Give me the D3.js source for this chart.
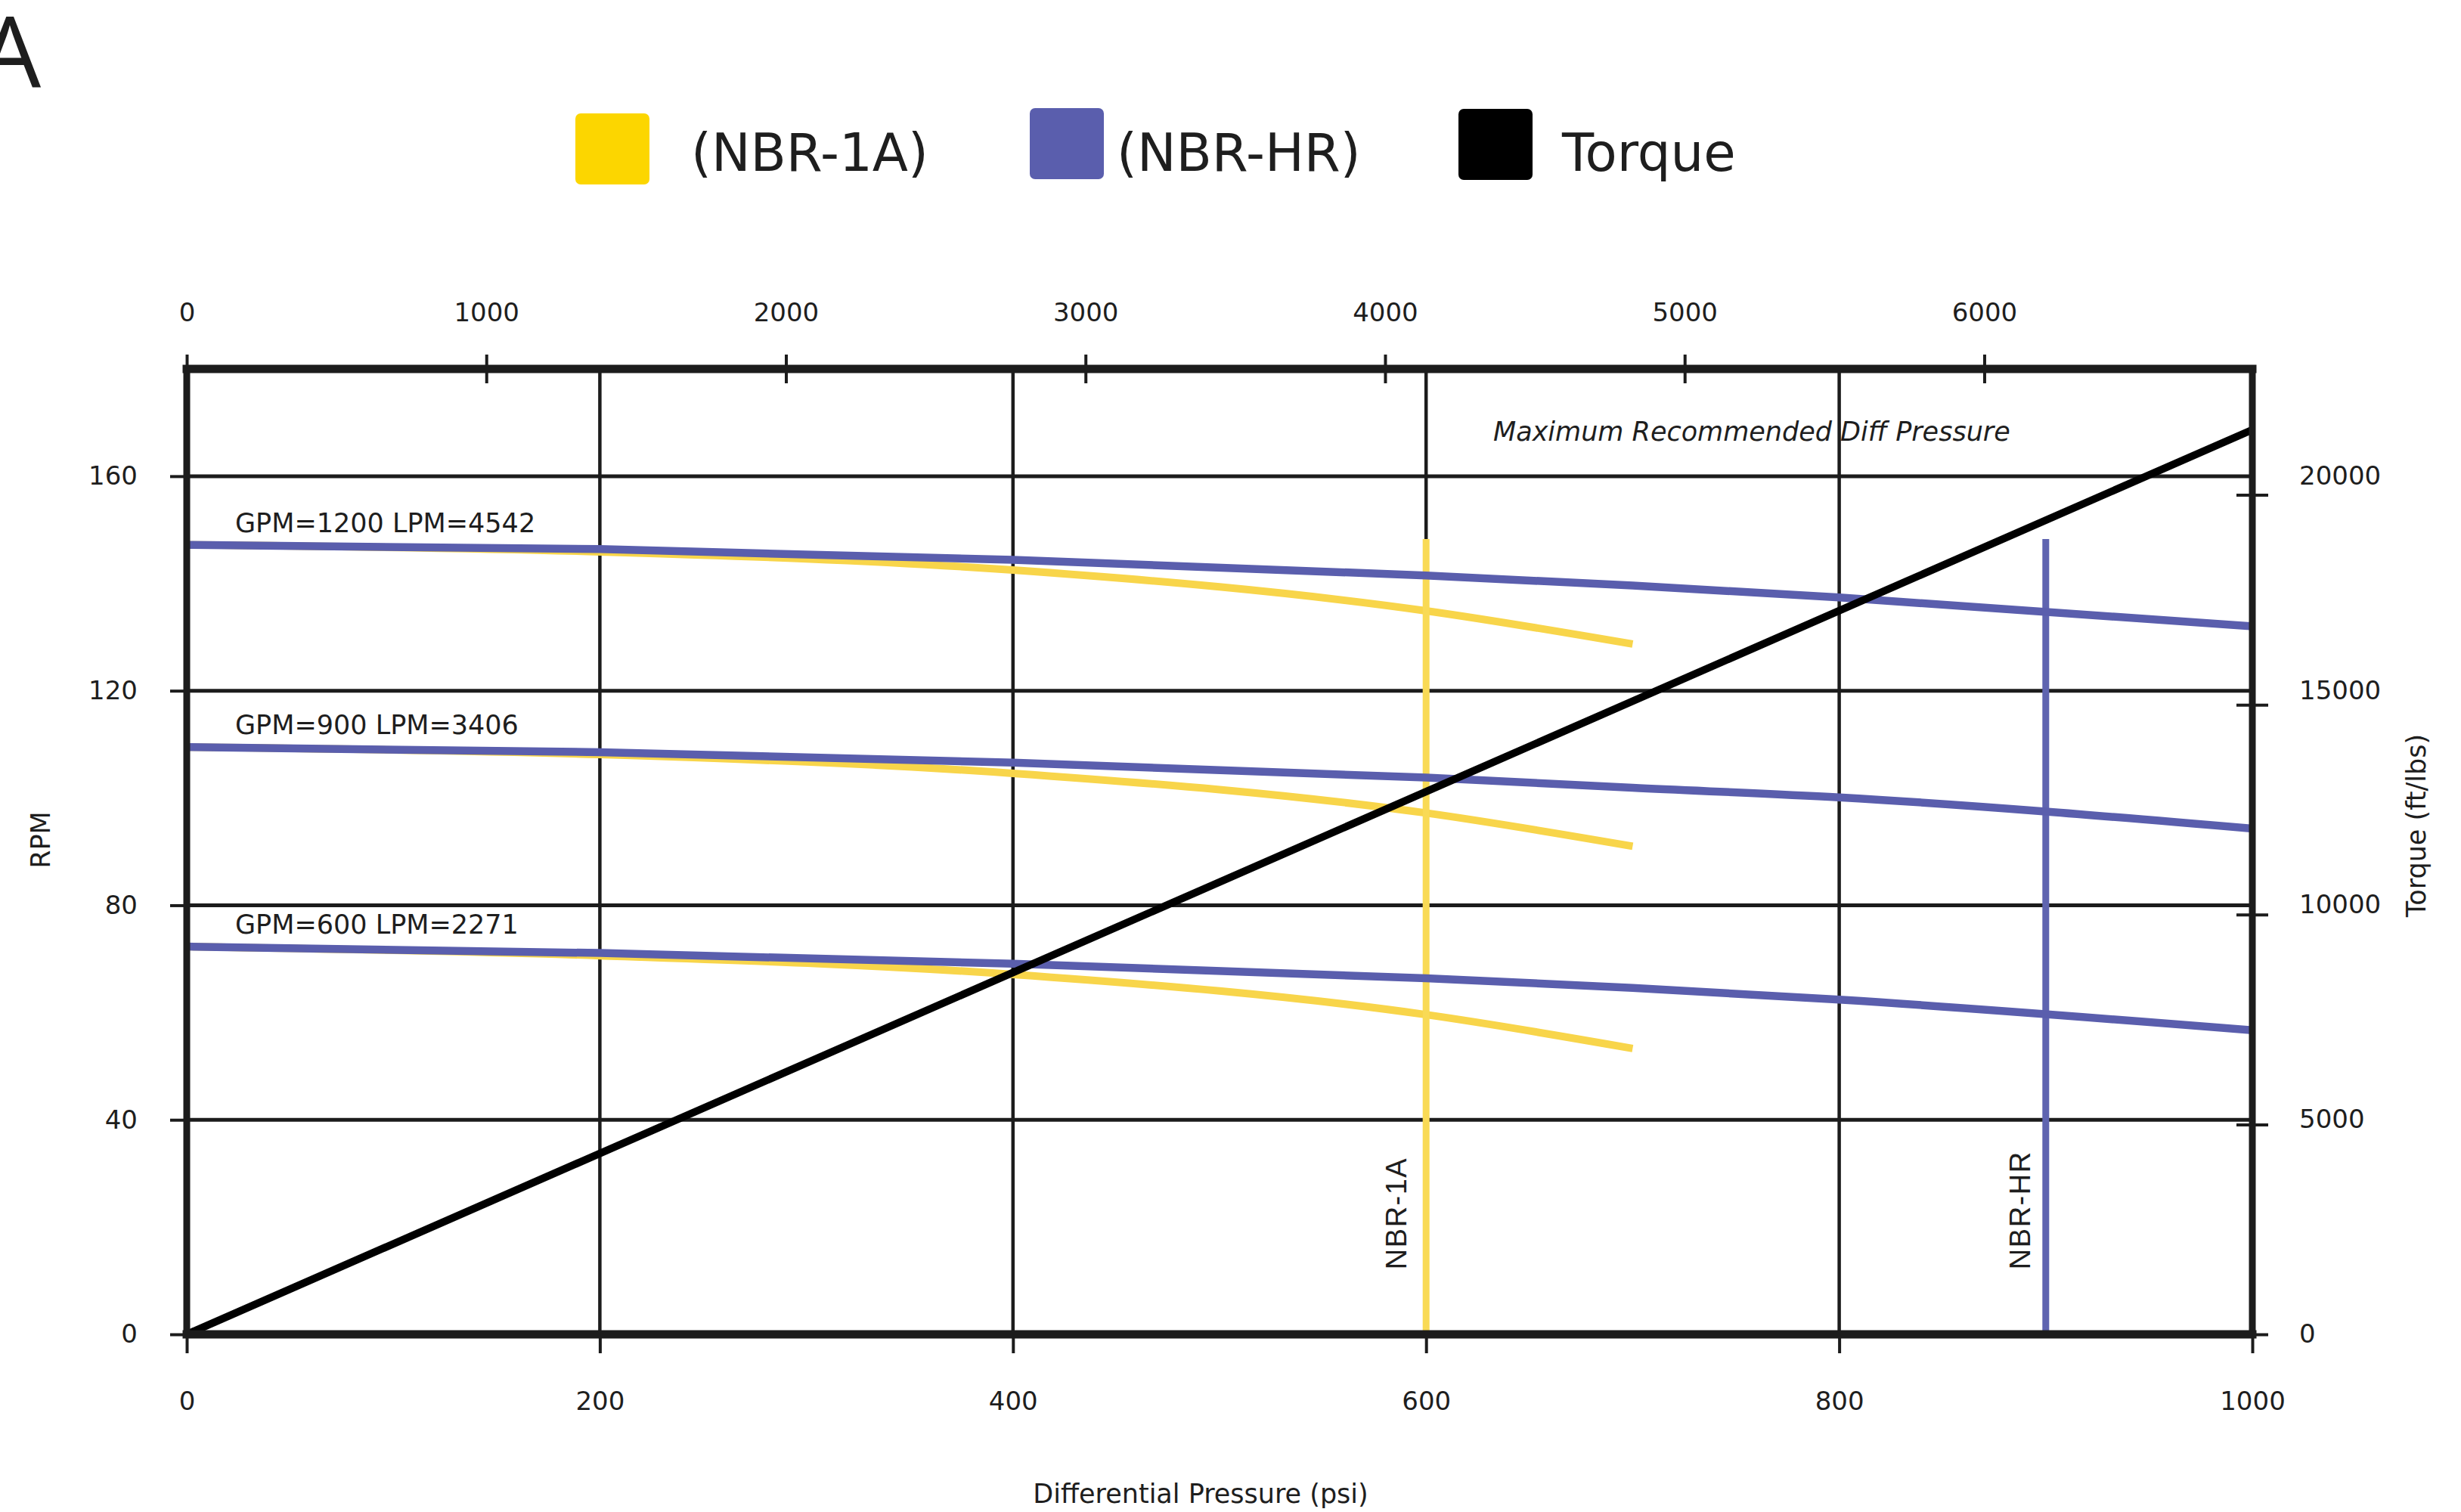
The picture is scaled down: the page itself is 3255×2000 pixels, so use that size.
<!DOCTYPE html>
<html>
<head>
<meta charset="utf-8">
<script src="https://cdn.jsdelivr.net/npm/d3@7"></script>
<style>
  body { margin: 0; background: #fff; }
  text { font-family: "DejaVu Sans", Verdana, sans-serif; fill: #1e1e1e; }
</style>
</head>
<body>
<div id="main"></div>
<script>
var WIDTH = 3255
var HEIGHT = 2000

// ticks
var psiTicks = [0, 200, 400, 600, 800, 1000]
var kpaTicks = [0, 1000, 2000, 3000, 4000, 5000, 6000]
var rpmTicks = [0, 40, 80, 120, 160]
var torqueTicks = [0, 5000, 10000, 15000, 20000]
var gridPsi = [200, 400, 600, 800]
var gridRpm = [40, 80, 120, 160]

// NBR-HR curves (RPM vs psi)
var hrPsi = [0, 200, 400, 600, 700, 800, 1000]
var hr1200 = [147.2, 146.4, 144.4, 141.5, 139.6, 137.4, 132.0]
var hr900 = [109.5, 108.55, 106.6, 103.8, 101.9, 100.1, 94.3]
var hr600 = [72.3, 71.1, 69.1, 66.4, 64.6, 62.4, 56.7]

// NBR-1A curves
var a1Psi = [0, 200, 400, 600, 700]
var a1_1200 = [147.2, 145.9, 142.5, 134.9, 128.7]
var a1_900 = [109.5, 108.1, 104.6, 97.2, 91.0]
var a1_600 = [72.3, 70.6, 67.1, 59.6, 53.3]

var flowLabels = ['GPM=1200 LPM=4542', 'GPM=900 LPM=3406', 'GPM=600 LPM=2271']

// torque (ft/lbs) vs psi
var torquePsi = [0, 1000]
var torqueVals = [0, 21550]

// max recommended pressure markers
var limitNames = ['NBR-1A', 'NBR-HR']
var limitPsi = [600, 900]
var limitTop = 148.3

var legendNames = ['(NBR-1A)', '(NBR-HR)', 'Torque']

var YELLOW = '#f8d54a'
var BLUE = '#5a5ead'

// plot box
var pLeft = 247, pRight = 2979, pTop = 488, pBottom = 1765

var x = d3.scaleLinear().domain([0, 1000]).range([pLeft, pRight])
var xKpa = d3.scaleLinear().domain([0, 6894.76]).range([pLeft, pRight])
var y = d3.scaleLinear().domain([0, 180]).range([pBottom, pTop])
var yTorque = d3.scaleLinear().domain([0, 23000]).range([pBottom, pTop])

const svg = d3.select('#main').append('svg')
    .attr('width', WIDTH)
    .attr('height', HEIGHT)

// panel letter (cut at the left edge, as in the source)
svg.append('text')
    .attr('x', -28).attr('y', 116)
    .style('font-family', '"Open Sans", sans-serif')
    .style('font-size', '130px')
    .text('A')

// legend
var legendX = [761, 1362, 1929]
var legendTextX = [914, 1477, 2066]
var legendY = [150, 143, 144]
var legendColors = ['#fcd600', BLUE, '#000']
var lg = svg.append('g')
lg.selectAll('rect').data(legendNames).enter().append('rect')
    .attr('x', (d, i) => legendX[i])
    .attr('y', (d, i) => legendY[i])
    .attr('width', 98).attr('height', 94)
    .attr('rx', 7)
    .attr('fill', (d, i) => legendColors[i])
lg.selectAll('text').data(legendNames).enter().append('text')
    .attr('x', (d, i) => legendTextX[i])
    .attr('y', 226)
    .style('font-size', '69px')
    .text(d => d)

var g = svg.append('g')

// grid
g.selectAll('line.hgrid').data(gridRpm).enter().append('line')
    .attr('class', 'hgrid')
    .attr('x1', pLeft).attr('x2', pRight)
    .attr('y1', d => y(d)).attr('y2', d => y(d))
    .attr('stroke', '#1c1c1c').attr('stroke-width', 5)
g.selectAll('line.vgrid').data(gridPsi).enter().append('line')
    .attr('class', 'vgrid')
    .attr('x1', d => x(d)).attr('x2', d => x(d))
    .attr('y1', pTop).attr('y2', pBottom)
    .attr('stroke', '#1c1c1c').attr('stroke-width', 4.5)

// axes
function styleAxis(sel) {
    sel.select('.domain').remove()
    sel.selectAll('.tick line').attr('stroke', '#1c1c1c').attr('stroke-width', 4)
    sel.selectAll('.tick text')
        .style('font-family', '"DejaVu Sans", Verdana, sans-serif')
        .style('font-size', '34px')
        .attr('fill', '#1e1e1e')
}
var fmt = d3.format('d')

g.append('g')
    .attr('transform', 'translate(0,' + pBottom + ')')
    .call(d3.axisBottom(x).tickValues(psiTicks).tickFormat(fmt).tickSize(25).tickPadding(51))
    .call(styleAxis)

g.append('g')
    .attr('transform', 'translate(0,' + pTop + ')')
    .call(d3.axisTop(xKpa).tickValues(kpaTicks).tickFormat(fmt).tickSize(19).tickPadding(44))
    .call(styleAxis)
    .call(s => s.selectAll('.tick line').attr('y1', 19))

g.append('g')
    .attr('transform', 'translate(' + pLeft + ',0)')
    .call(d3.axisLeft(y).tickValues(rpmTicks).tickFormat(fmt).tickSize(22).tickPadding(43))
    .call(styleAxis)

g.append('g')
    .attr('transform', 'translate(' + pRight + ',0)')
    .call(d3.axisRight(yTorque).tickValues(torqueTicks).tickSize(21).tickFormat(''))
    .call(styleAxis)
    .call(s => s.selectAll('.tick line').attr('x1', -21))

// torque labels sit on the rpm grid rows
g.selectAll('text.tlab').data(torqueTicks).enter().append('text')
    .attr('class', 'tlab')
    .attr('x', pRight + 62)
    .attr('y', d => y(d * 160 / 20000))
    .attr('dy', '0.32em')
    .style('font-size', '34px')
    .text(d => fmt(d))

// curves
var line = d3.line()
    .x(d => x(d[0]))
    .y(d => y(d[1]))
    .curve(d3.curveMonotoneX)

var a1Series = [a1_1200, a1_900, a1_600]
var hrSeries = [hr1200, hr900, hr600]

g.selectAll('path.a1').data(a1Series).enter().append('path')
    .attr('class', 'a1')
    .attr('d', s => line(s.map((v, i) => [a1Psi[i], v])))
    .attr('fill', 'none').attr('stroke', YELLOW).attr('stroke-width', 10)

// limit lines
g.selectAll('line.limit').data(limitPsi).enter().append('line')
    .attr('class', 'limit')
    .attr('x1', d => x(d)).attr('x2', d => x(d))
    .attr('y1', pBottom).attr('y2', y(limitTop))
    .attr('stroke', (d, i) => i == 0 ? '#f9da55' : '#5f64b0')
    .attr('stroke-width', 9)

g.selectAll('path.hr').data(hrSeries).enter().append('path')
    .attr('class', 'hr')
    .attr('d', s => line(s.map((v, i) => [hrPsi[i], v])))
    .attr('fill', 'none').attr('stroke', BLUE).attr('stroke-width', 10.5)

g.selectAll('text.flow').data(flowLabels).enter().append('text')
    .attr('class', 'flow')
    .attr('x', x(0) + 64)
    .attr('y', (d, i) => y(hrSeries[i][0]) - 17)
    .style('font-size', '35px')
    .text(d => d)

g.selectAll('text.limit').data(limitNames).enter().append('text')
    .attr('class', 'limit')
    .attr('transform', (d, i) => 'translate(' + (x(limitPsi[i]) - (i == 0 ? 26 : 21)) + ',' + y(12.1) + ') rotate(-90)')
    .style('font-family', '"Liberation Sans", Arial, sans-serif')
    .style('font-size', '38px')
    .style('letter-spacing', '1.5px')
    .text(d => d)

// torque line
var tline = d3.line()
    .x(d => x(d[0]))
    .y(d => yTorque(d[1]))
g.append('path')
    .attr('d', tline(torquePsi.map((p, i) => [p, torqueVals[i]])))
    .attr('fill', 'none').attr('stroke', '#000').attr('stroke-width', 10)

g.append('text')
    .attr('x', x(632.5)).attr('y', y(166.6))
    .style('font-style', 'italic')
    .style('font-size', '35px')
    .text('Maximum Recommended Diff Pressure')

// frame
var frame = [
    [pLeft, pTop, pRight, pTop, 11],
    [pLeft, pBottom, pRight, pBottom, 11],
    [pLeft, pTop, pLeft, pBottom, 9],
    [pRight, pTop, pRight, pBottom, 9]
]
g.selectAll('line.frame').data(frame).enter().append('line')
    .attr('class', 'frame')
    .attr('x1', d => d[0]).attr('y1', d => d[1])
    .attr('x2', d => d[2]).attr('y2', d => d[3])
    .attr('stroke', '#1c1c1c').attr('stroke-width', d => d[4])
    .attr('stroke-linecap', 'square')

// axis titles
svg.append('text')
    .attr('transform', 'translate(66,1111) rotate(-90)')
    .attr('text-anchor', 'middle')
    .style('font-size', '35px')
    .text('RPM')
svg.append('text')
    .attr('transform', 'translate(3208,1092) rotate(-90)')
    .attr('text-anchor', 'middle')
    .style('font-size', '35px')
    .text('Torque (ft/lbs)')
svg.append('text')
    .attr('x', 1588).attr('y', 1988)
    .attr('text-anchor', 'middle')
    .style('font-size', '35px')
    .text('Differential Pressure (psi)')
</script>
</body>
</html>
